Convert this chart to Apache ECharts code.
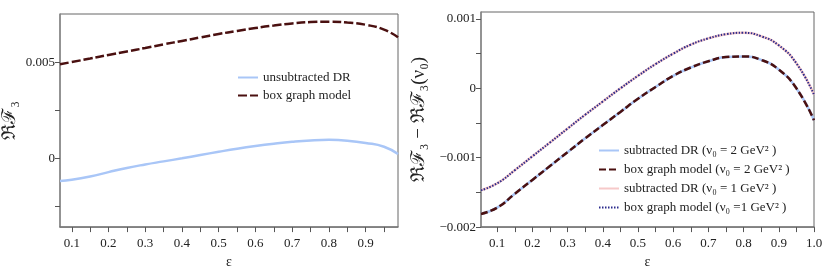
<!DOCTYPE html>
<html><head><meta charset="utf-8">
<script src="https://cdn.jsdelivr.net/npm/echarts@6/dist/echarts.min.js"></script>
<style>html,body{margin:0;padding:0;background:#fff}#c{width:830px;height:274px}</style>
</head><body><div id="c"></div>
<script>
// Left panel
const epsL = [0.068, 0.1, 0.15, 0.2, 0.25, 0.3, 0.35, 0.4, 0.45, 0.5, 0.55, 0.6, 0.65, 0.7, 0.75, 0.8, 0.85, 0.9, 0.95, 0.988];
const unsubDR = [-0.00116, -0.00110, -0.00093, -0.00070, -0.00048, -0.00030, -0.00014, 0.00002, 0.00019, 0.00036, 0.00052, 0.00066, 0.00078, 0.00088, 0.00095, 0.00098, 0.00094, 0.00082, 0.00062, 0.00024];
const boxL = [0.00491, 0.00503, 0.00521, 0.00540, 0.00558, 0.00576, 0.00595, 0.00613, 0.00631, 0.00649, 0.00665, 0.00680, 0.00693, 0.00704, 0.00711, 0.00713, 0.00709, 0.00697, 0.00672, 0.00632];
// Right panel
const epsR = [0.054, 0.1, 0.15, 0.2, 0.25, 0.3, 0.35, 0.4, 0.45, 0.5, 0.55, 0.6, 0.65, 0.7, 0.75, 0.8, 0.85, 0.9, 0.95, 1.0];
const subDR2 = [-0.00181, -0.00172, -0.00152, -0.00132, -0.00112, -0.00092, -0.00072, -0.00053, -0.00034, -0.00015, 0.00002, 0.00018, 0.00030, 0.00039, 0.00045, 0.00046, 0.00041, 0.00027, 0.00000, -0.00046];
const box2 = [-0.00181, -0.00172, -0.00152, -0.00132, -0.00112, -0.00092, -0.00072, -0.00053, -0.00034, -0.00015, 0.00002, 0.00018, 0.00030, 0.00039, 0.00045, 0.00046, 0.00041, 0.00027, 0.00000, -0.00046];
const subDR1 = [-0.00147, -0.00137, -0.00118, -0.00098, -0.00078, -0.00058, -0.00038, -0.00019, 0.00000, 0.00018, 0.00035, 0.00050, 0.00063, 0.00072, 0.00078, 0.00080, 0.00075, 0.00062, 0.00036, -0.00009];
const box1 = [-0.00147, -0.00137, -0.00118, -0.00098, -0.00078, -0.00058, -0.00038, -0.00019, 0.00000, 0.00018, 0.00035, 0.00050, 0.00063, 0.00072, 0.00078, 0.00080, 0.00075, 0.00062, 0.00036, -0.00009];
// Ticks
const xLabelsL = [0.1, 0.2, 0.3, 0.4, 0.5, 0.6, 0.7, 0.8, 0.9];
const xTicksL = [0.1, 0.15, 0.2, 0.25, 0.3, 0.35, 0.4, 0.45, 0.5, 0.55, 0.6, 0.65, 0.7, 0.75, 0.8, 0.85, 0.9, 0.95];
const yLabelsL = [0, 0.005];
const yTicksL = [-0.0025, 0, 0.0025, 0.005];
const xLabelsR = [0.1, 0.2, 0.3, 0.4, 0.5, 0.6, 0.7, 0.8, 0.9, 1.0];
const xTicksR = [0.1, 0.15, 0.2, 0.25, 0.3, 0.35, 0.4, 0.45, 0.5, 0.55, 0.6, 0.65, 0.7, 0.75, 0.8, 0.85, 0.9, 0.95, 1.0];
const yLabelsR = [-0.002, -0.001, 0, 0.001];
const yTicksR = [-0.002, -0.0015, -0.001, -0.0005, 0, 0.0005, 0.001];

const FONT = 'Liberation Serif';
const txt = {fontFamily: FONT, fontSize: 13, color: '#222'};
const zip = (xs, ys) => xs.map((x, i) => [x, ys[i]]);
const fmtY = v => v === 0 ? '0' : (v < 0 ? '\u2212' + String(Math.abs(v)) : String(v));

function xAxis(gi, min, max, labels, ticks, fmt) {
  return {
    type: 'value', gridIndex: gi, min, max, name: 'ε', nameLocation: 'middle', nameGap: 27,
    nameTextStyle: Object.assign({}, txt, {fontSize: 14}),
    axisLine: {onZero: false, lineStyle: {color: '#777', width: 1.5}},
    axisTick: {show: true, customValues: ticks, length: 5, lineStyle: {color: '#555'}},
    axisLabel: {customValues: labels, formatter: fmt, ...txt, margin: 10},
    splitLine: {show: false}
  };
}
function yAxis(gi, min, max, labels, ticks, name, gap, fs) {
  return {
    type: 'value', gridIndex: gi, min, max, name, nameLocation: 'middle', nameGap: gap,
    nameTextStyle: Object.assign({}, txt, {fontSize: fs}),
    axisLine: {show: true, onZero: false, lineStyle: {color: '#888', width: 1.5}},
    axisTick: {show: true, customValues: ticks, length: 5, lineStyle: {color: '#555'}},
    axisLabel: {customValues: labels, formatter: fmtY, ...txt, margin: 5},
    splitLine: {show: false}
  };
}

const chart = echarts.init(document.getElementById('c'), null, {renderer: 'canvas'});
const line = (name, xi, xs, ys, color, width, type) => ({
  name, type: 'line', xAxisIndex: xi, yAxisIndex: xi, smooth: true, symbol: 'none', showSymbol: false,
  data: zip(xs, ys), lineStyle: {color, width, type: type || 'solid'}, itemStyle: {color}
});
chart.setOption({
  animation: false,
  backgroundColor: '#fff',
  grid: [
    {left: 60, right: 432, top: 14, bottom: 44, show: true, borderColor: '#666', borderWidth: 1},
    {left: 481, right: 16, top: 12, bottom: 46, show: true, borderColor: '#666', borderWidth: 1}
  ],
  xAxis: [
    xAxis(0, 0.068, 0.988, xLabelsL, xTicksL, v => String(v)),
    xAxis(1, 0.054, 1.0, xLabelsR, xTicksR, v => v.toFixed(1))
  ],
  yAxis: [
    yAxis(0, -0.00356, 0.00753, yLabelsL, yTicksL, 'ℜℱ₃', 40, 19),
    yAxis(1, -0.002, 0.0011, yLabelsR, yTicksR, 'ℜℱ₃ − ℜℱ₃(ν₀)', 52, 19)
  ],
  legend: [
    {left: 232, top: 66, orient: 'vertical', itemWidth: 20, itemHeight: 10, itemGap: 5,
     itemStyle: {opacity: 0}, textStyle: txt, data: ['unsubtracted DR', 'box graph model']},
    {left: 593, top: 139, orient: 'vertical', itemWidth: 20, itemHeight: 10, itemGap: 6,
     itemStyle: {opacity: 0}, textStyle: txt,
     data: ['subtracted DR (ν₀ = 2 GeV² )', 'box graph model (ν₀ = 2 GeV² )', 'subtracted DR (ν₀ = 1 GeV² )', 'box graph model (ν₀ =1 GeV² )']}
  ],
  series: [
    line('unsubtracted DR', 0, epsL, unsubDR, '#a9c6f7', 2.5),
    line('box graph model', 0, epsL, boxL, '#4a1010', 2.5, [9, 3]),
    line('subtracted DR (ν₀ = 2 GeV² )', 1, epsR, subDR2, '#a9c6f7', 2.5),
    line('box graph model (ν₀ = 2 GeV² )', 1, epsR, box2, '#4a1010', 2.5, [7, 3]),
    line('subtracted DR (ν₀ = 1 GeV² )', 1, epsR, subDR1, '#f6c9c9', 2.5),
    line('box graph model (ν₀ =1 GeV² )', 1, epsR, box1, '#2b2b8c', 2, [1.5, 1.5])
  ]
});
</script></body></html>
